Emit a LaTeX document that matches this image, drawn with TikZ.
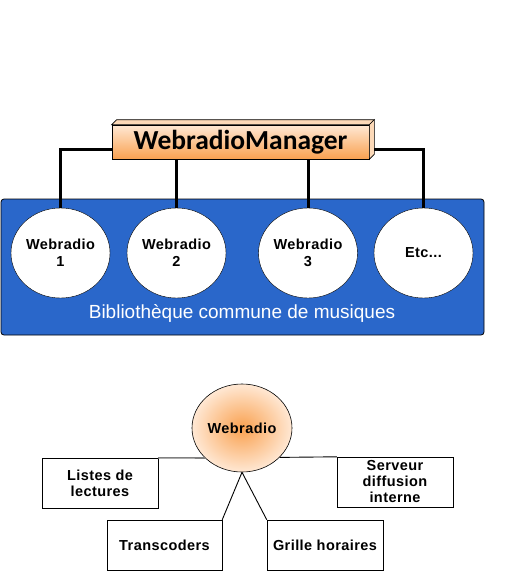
\documentclass[tikz,border=0pt]{standalone}
\usepackage{fontspec}
\setmainfont{Liberation Sans}
\newfontfamily\mgrfont{Carlito}
\usepackage{tikz}
\usetikzlibrary{shapes.geometric,positioning}
\definecolor{libblue}{HTML}{2A67CA}
\definecolor{peach}{HTML}{FFE8D4}
\definecolor{orangemid}{HTML}{F9A150}
\definecolor{facepeach}{HTML}{FCD9B8}

\begin{document}
\begin{tikzpicture}[
            x=1pt, y=-1pt,
            radio/.style={draw, ellipse, fill=white, minimum width=99pt, minimum height=90pt, inner sep=0pt, align=center, font=\fontsize{14.5}{17}\selectfont\bfseries\addfontfeatures{LetterSpace=3}},
            part/.style={draw, rectangle, minimum width=116pt, minimum height=50pt, inner sep=0pt, align=center, font=\fontsize{14.5}{16}\selectfont\bfseries\addfontfeatures{LetterSpace=3}},
            bus/.style={line width=3pt},
            link/.style={line width=0.9pt}
        ]
        \useasboundingbox (0,0) rectangle (508,571);
        \node[draw, line width=0.6pt, shading=axis, top color=peach, bottom color=orangemid, minimum width=257pt, minimum height=34pt, inner sep=0pt, font=\mgrfont\fontsize{27.5}{30}\selectfont\bfseries] (mgr) at (240.5,142) {WebradioManager};
        \draw[fill=facepeach, line width=0.6pt] (mgr.north west) -- ++(5,-5) -- ([shift={(5pt,5pt)}]mgr.north east) -- (mgr.north east) -- cycle;
        \draw[fill=facepeach, line width=0.6pt] (mgr.north east) -- ++(5,-5) -- ([shift={(5pt,5pt)}]mgr.south east) -- (mgr.south east) -- cycle;
        \node[draw, line width=0.8pt, fill=libblue, rounded corners=3pt, minimum width=483pt, minimum height=136pt] (lib) at (242.5,267) {};
        \node[text=white, font=\fontsize{19}{22}\selectfont] (libtxt) at (242,313) {Bibliothèque commune de musiques};
        \node[radio] (w1) at (60.5,253) {Webradio\\1};
        \node[radio] (w2) at (176.5,253) {Webradio\\2};
        \node[radio] (w3) at (308,253) {Webradio\\3};
        \node[radio] (w4) at (423.5,253) {Etc...};
        \draw[bus] ([yshift=-7pt]mgr.west) -| (w1);
        \draw[bus] ([shift={(5pt,-7pt)}]mgr.east) -| (w4);
        \draw[bus] (w2 |- mgr.south) -- (w2);
        \draw[bus] (w3 |- mgr.south) -- (w3);

        \node[draw, ellipse, line width=0.6pt, shading=radial, inner color=orangemid, outer color=peach, minimum width=100pt, minimum height=88pt, inner sep=0pt, font=\fontsize{14.5}{16}\selectfont\bfseries\addfontfeatures{LetterSpace=3}] (wr) at (242,428) {Webradio};
        \node[part] (lists) at (100,483) {Listes de\\lectures};
        \node[part] (serveur) at (395,482) {Serveur\\diffusion\\interne};
        \node[part, minimum width=115pt] (trans) at (164.5,545) {Transcoders};
        \node[part] (grille) at (325,545) {Grille horaires};
        \draw[link, gray, line width=1.6pt] (lists.north east) -- (wr.219);
        \draw[link] (serveur.north west) -- (wr.322);
        \draw[link] (wr.south) -- (trans.north east);
        \draw[link] (wr.south) -- (grille.north west);
        \end{tikzpicture}
\end{document}
